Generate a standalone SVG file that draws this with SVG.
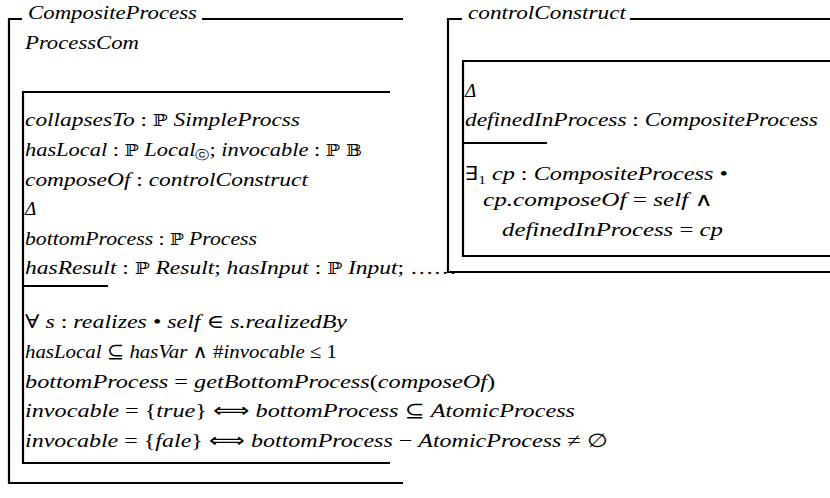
<svg xmlns="http://www.w3.org/2000/svg" width="830" height="498" viewBox="0 0 830 498">
  <style>
    .frame { stroke: #000; stroke-width: 2.2; fill: none; stroke-linecap: butt; }
    text { font-family: "Liberation Serif", "DejaVu Serif", serif; font-size: 19px; font-style: italic; fill: #000; }
    .up { font-style: normal; }
    .bb { font-style: normal; font-family: "DejaVu Serif", "DejaVu Sans", serif; font-size: 16px; }
    .arr { font-style: normal; font-family: "DejaVu Sans", serif; font-size: 20px; }
    .sm { font-size: 12px; font-style: normal; }
  </style>
  <rect width="830" height="498" fill="#fff"/>

  <!-- Schema: CompositeProcess -->
  <g id="composite-process">
    <path class="frame" d="M8,19 H22 M202,19 H403 M9,18 V484 M8,483 H403"/>
    <text x="28" y="19" textLength="169" lengthAdjust="spacingAndGlyphs">CompositeProcess</text>
    <text x="25" y="49" textLength="114" lengthAdjust="spacingAndGlyphs">ProcessCom</text>

    <g id="process-com">
      <path class="frame" d="M22,92 H390 M23,91 V464 M22,286 H108 M22,463 H390"/>
      <!-- declarations -->
      <text x="25" y="126" textLength="275" lengthAdjust="spacingAndGlyphs">collapsesTo <tspan class="up">: </tspan><tspan class="bb">ℙ</tspan> SimpleProcss</text>
      <text x="25" y="156" textLength="337" lengthAdjust="spacingAndGlyphs">hasLocal <tspan class="up">: </tspan><tspan class="bb">ℙ</tspan> Local<tspan class="sm" dy="3">ⓒ</tspan><tspan class="up" dy="-3">;  </tspan>invocable <tspan class="up">: </tspan><tspan class="bb">ℙ 𝔹</tspan></text>
      <text x="25" y="186" textLength="283" lengthAdjust="spacingAndGlyphs">composeOf <tspan class="up">: </tspan>controlConstruct</text>
      <text x="25" y="215">Δ</text>
      <text x="25" y="245" textLength="232" lengthAdjust="spacingAndGlyphs">bottomProcess <tspan class="up">: </tspan><tspan class="bb">ℙ</tspan> Process</text>
      <text x="25" y="274" textLength="432" lengthAdjust="spacingAndGlyphs">hasResult <tspan class="up">: </tspan><tspan class="bb">ℙ</tspan> Result<tspan class="up">;  </tspan>hasInput <tspan class="up">: </tspan><tspan class="bb">ℙ</tspan> Input<tspan class="up">;  ……</tspan></text>

      <!-- predicates -->
      <text x="25" y="328" textLength="322" lengthAdjust="spacingAndGlyphs"><tspan class="up">∀ </tspan>s <tspan class="up">: </tspan>realizes <tspan class="up">• </tspan>self <tspan class="up">∈ </tspan>s.realizedBy</text>
      <text x="25" y="358" textLength="312" lengthAdjust="spacingAndGlyphs">hasLocal <tspan class="up">⊆ </tspan>hasVar <tspan class="up">∧ #</tspan>invocable <tspan class="up">≤ 1</tspan></text>
      <text x="25" y="388" textLength="470" lengthAdjust="spacingAndGlyphs">bottomProcess <tspan class="up">= </tspan>getBottomProcess<tspan class="up">(</tspan>composeOf<tspan class="up">)</tspan></text>
      <text x="25" y="417" textLength="550" lengthAdjust="spacingAndGlyphs">invocable <tspan class="up">= {</tspan>true<tspan class="up">}  </tspan><tspan class="arr">⟺</tspan>  bottomProcess <tspan class="up">⊆ </tspan>AtomicProcess</text>
      <text x="25" y="447" textLength="583" lengthAdjust="spacingAndGlyphs">invocable <tspan class="up">= {</tspan>fale<tspan class="up">}  </tspan><tspan class="arr">⟺</tspan>  bottomProcess <tspan class="up">− </tspan>AtomicProcess <tspan class="up">≠ ∅</tspan></text>
    </g>
  </g>

  <!-- Schema: controlConstruct -->
  <g id="control-construct">
    <path class="frame" d="M448,19 H462 M630,19 H830 M448,18 V273 M448,272 H830"/>
    <text x="468" y="19" textLength="158" lengthAdjust="spacingAndGlyphs">controlConstruct</text>

    <g id="control-construct-body">
      <path class="frame" d="M462,61 H830 M463,60 V257 M462,143 H547 M462,256 H830"/>
      <text x="465" y="97">Δ</text>
      <text x="465" y="126" textLength="353" lengthAdjust="spacingAndGlyphs">definedInProcess <tspan class="up">: </tspan>CompositeProcess</text>
      <text x="465" y="180" textLength="263" lengthAdjust="spacingAndGlyphs"><tspan class="up">∃</tspan><tspan class="sm" dy="4">1</tspan><tspan dy="-4"> cp </tspan><tspan class="up">: </tspan>CompositeProcess <tspan class="up">•</tspan></text>
      <text x="483" y="206" textLength="230" lengthAdjust="spacingAndGlyphs">cp.composeOf <tspan class="up">= </tspan>self <tspan class="up">∧</tspan></text>
      <text x="502" y="236" textLength="221" lengthAdjust="spacingAndGlyphs">definedInProcess <tspan class="up">= </tspan>cp</text>
    </g>
  </g>
</svg>
